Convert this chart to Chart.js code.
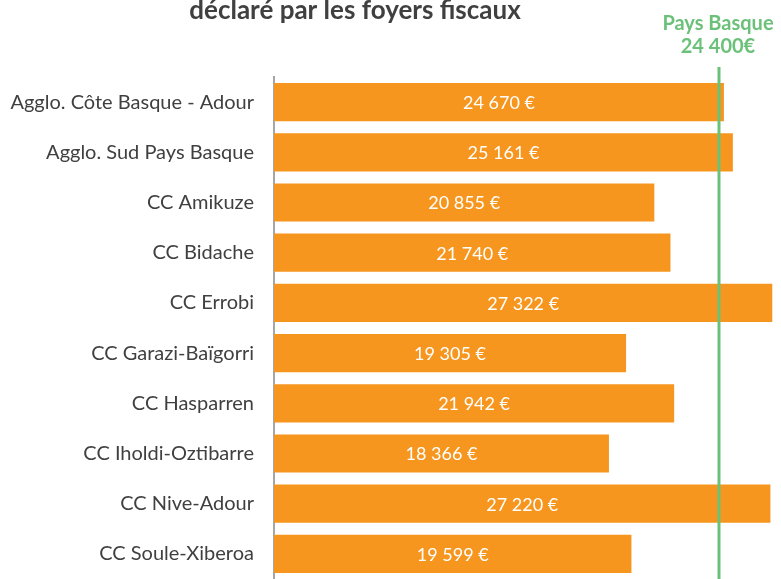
<!DOCTYPE html>
<html>
<head>
<meta charset="utf-8">
<script src="https://cdn.jsdelivr.net/npm/chart.js@4"></script>
<style>
  html, body { margin: 0; padding: 0; background: #fff; }
  #wrap { width: 781px; height: 579px; }
</style>
</head>
<body>
<div id="wrap"><canvas id="mycanvas"></canvas></div>
<script>
var territoires = [
    "Agglo. Côte Basque - Adour",
    "Agglo. Sud Pays Basque",
    "CC Amikuze",
    "CC Bidache",
    "CC Errobi",
    "CC Garazi-Baïgorri",
    "CC Hasparren",
    "CC Iholdi-Oztibarre",
    "CC Nive-Adour",
    "CC Soule-Xiberoa"
];
var revenus = [24670, 25161, 20855, 21740, 27322, 19305, 21942, 18366, 27220, 19599];
var refPaysBasque = 24400;
var titre = "déclaré par les foyers fiscaux";
var refLabel = ["Pays Basque", "24 400€"];

var fontFam = "Lato, 'Open Sans', sans-serif";

function euro(v) {
    return String(v).replace(/\B(?=(\d{3})+(?!\d))/g, " ") + " €";
}

// labels in bars, reference line, title
var extras = {
    id: 'extras',
    afterDatasetsDraw: function (chart) {
        var ctx = chart.ctx;
        var xs = chart.scales.x;
        var meta = chart.getDatasetMeta(0);

        ctx.save();
        ctx.fillStyle = '#ffffff';
        ctx.font = '18px ' + fontFam;
        ctx.textAlign = 'center';
        ctx.textBaseline = 'middle';
        meta.data.forEach(function (bar, i) {
            ctx.fillText(euro(revenus[i]), (bar.x + bar.base) / 2, bar.y + 1);
        });

        var lx = xs.getPixelForValue(refPaysBasque);
        ctx.strokeStyle = '#6cc17a';
        ctx.lineWidth = 3;
        ctx.beginPath();
        ctx.moveTo(lx, 67);
        ctx.lineTo(lx, chart.height);
        ctx.stroke();

        ctx.fillStyle = '#6cc17a';
        ctx.font = 'bold 20px ' + fontFam;
        ctx.fillText(refLabel[0], lx - 1, 24);
        ctx.fillText(refLabel[1], lx - 1, 47);

        ctx.fillStyle = '#404040';
        ctx.font = 'bold 26px ' + fontFam;
        ctx.fillText(titre, 355, 11);
        ctx.restore();
    }
};

var ctx = document.getElementById("mycanvas");
var barGraph = new Chart(ctx, {
    type: 'bar',
    data: {
        labels: territoires,
        datasets: [
            {
                label: 'Revenu',
                backgroundColor: '#f6961f',
                borderWidth: 0,
                data: revenus,
                barPercentage: 0.76,
                categoryPercentage: 1.0
            }
        ]
    },
    options: {
        indexAxis: 'y',
        responsive: true,
        maintainAspectRatio: false,
        animation: false,
        layout: { padding: { top: 77, right: 0, bottom: 0, left: 0 } },
        plugins: {
            legend: { display: false },
            tooltip: { enabled: false }
        },
        scales: {
            x: {
                display: false,
                min: 0,
                max: 27800
            },
            y: {
                grid: { display: false, drawTicks: false },
                border: { color: '#a6a6a6', width: 2 },
                ticks: {
                    color: '#404040',
                    font: { size: 20, family: fontFam },
                    padding: 20
                },
                afterFit: function (scale) {
                    scale.width = 274;
                    scale.paddingTop = 0;
                    scale.paddingBottom = 0;
                }
            }
        }
    },
    plugins: [extras]
});
</script>
</body>
</html>
